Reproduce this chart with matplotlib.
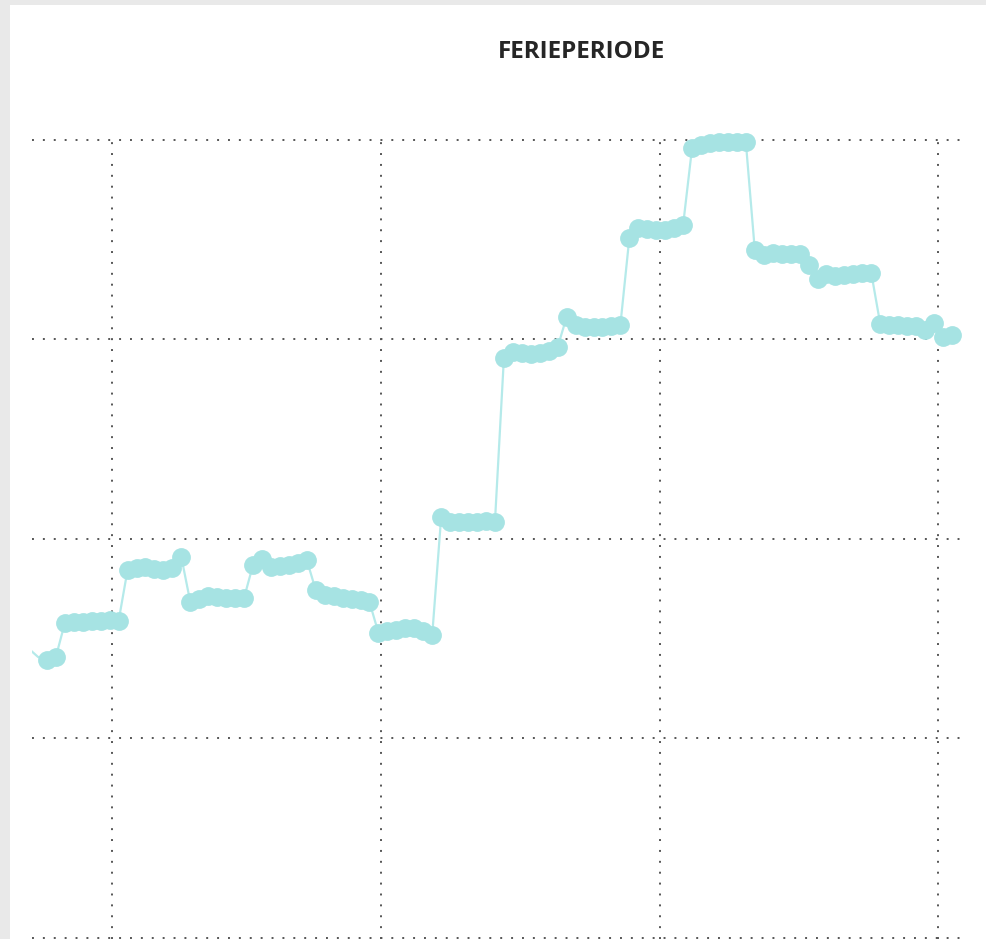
import matplotlib
matplotlib.use("Agg")
import matplotlib.pyplot as plt
from matplotlib.patches import Rectangle

# daily values, one week per level
days = list(range(104))
values = [
    144.9, 140.9, 139.3, 140.9,
    157.9, 158.4, 158.4, 158.9, 158.9, 159.4, 158.9,
    184.5, 185.5, 186.0, 185.0, 184.5, 185.5, 191.0,
    168.4, 169.9, 171.4, 170.9, 170.4, 170.4, 170.4,
    187.0, 190.0, 186.0, 186.5, 187.0, 188.0, 189.5,
    174.4, 171.9, 171.4, 170.4, 169.9, 169.4, 168.4,
    152.9, 153.9, 154.4, 155.4, 155.4, 153.9, 151.9,
    211.0, 208.5, 208.5, 208.5, 208.5, 209.0, 208.5,
    290.7, 293.7, 293.2, 292.7, 293.2, 294.2, 296.2,
    311.3, 307.3, 306.3, 306.3, 306.3, 306.8, 307.3,
    350.9, 355.9, 355.4, 354.9, 354.9, 355.9, 357.4,
    396.0, 397.5, 398.5, 399.0, 399.0, 399.0, 399.0,
    344.9, 342.4, 343.4, 342.9, 342.9, 342.9, 337.3,
    330.3, 332.8, 331.8, 332.3, 332.8, 333.3, 333.3,
    307.8, 307.3, 307.3, 306.8, 306.8, 304.8, 308.3,
    301.3, 302.3,
]
x_grid = [9.3, 39.3, 70.4, 101.4]
y_grid = [0, 100, 200, 300, 400]
title = "FERIEPERIODE"

W, H = 986, 939
fig = plt.figure(figsize=(W / 100, H / 100), dpi=100)
fig.patch.set_facecolor("#e9e9e9")
fig.patches.append(Rectangle((10 / W, 0), 1, 1 - 5 / H, transform=fig.transFigure,
                             facecolor="white", edgecolor="none", zorder=-5))

ax = fig.add_axes([32 / W, 0, 933 / W, 819 / H], zorder=2)
ax.set_facecolor("none")
ax.plot(days, values, color="#b5eaea", lw=1.6, marker="o", ms=12.5,
        mfc="#a6e3e3", mec="#a6e3e3", markevery=list(range(2, len(days))),
        solid_joinstyle="round", zorder=3)

ax.set_xlim(0.335, 104.46)
ax.set_ylim(-0.5, 410)
dots = (0, (1, 4.6))
ax.hlines(y_grid, 0.335, 104.46, color="#555555", lw=1.4, linestyles=[dots], zorder=1)
ax.vlines(x_grid, -0.5, y_grid[-1], color="#555555", lw=1.4, linestyles=[dots], zorder=1)
ax.set_xticks([])
ax.set_yticks([])
for s in ax.spines.values():
    s.set_visible(False)

fig.text(582 / W, 1 - 52 / H, title, ha="center", va="center",
         fontsize=17.5, fontweight="bold", family="Open Sans", color="#262626")

fig.savefig("out.png", dpi=100, facecolor=fig.get_facecolor())
